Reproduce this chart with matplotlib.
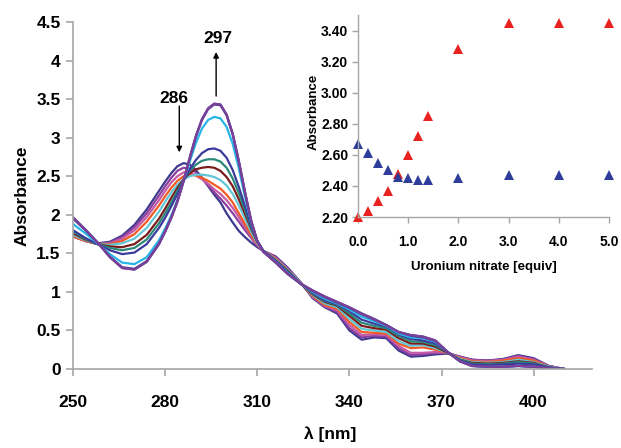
import matplotlib
matplotlib.use('Agg')
import matplotlib.pyplot as plt

# ── Data ─────────────────────────────────────────────────
wavelength = [250, 254, 258, 262, 266, 270, 274, 278,
              280, 282, 284, 286, 288, 290, 292, 294, 296, 298, 300, 302, 304, 306, 308, 310, 312,
              316, 320, 324, 328, 332, 336, 340, 344, 348, 352, 356, 360, 364, 368, 372, 376, 380,
              385, 390, 395, 400, 405, 410]

abs_0_0 = [1.72, 1.66, 1.63, 1.65, 1.73, 1.87, 2.07, 2.31,
           2.43, 2.54, 2.63, 2.67, 2.65, 2.58, 2.48, 2.37, 2.26, 2.16, 2.02, 1.90, 1.79, 1.71, 1.64, 1.58, 1.53,
           1.46, 1.31, 1.13, 0.92, 0.80, 0.72, 0.50, 0.38, 0.41, 0.40, 0.24, 0.16, 0.17, 0.19, 0.20, 0.16, 0.12,
           0.11, 0.13, 0.18, 0.14, 0.04, 0.00]
abs_0_2 = [1.72, 1.66, 1.62, 1.64, 1.71, 1.84, 2.02, 2.25,
           2.37, 2.48, 2.57, 2.61, 2.60, 2.55, 2.47, 2.38, 2.29, 2.21, 2.12, 2.02, 1.91, 1.80, 1.70, 1.60, 1.53,
           1.45, 1.30, 1.13, 0.93, 0.81, 0.74, 0.53, 0.41, 0.43, 0.42, 0.27, 0.18, 0.19, 0.21, 0.21, 0.16, 0.12,
           0.11, 0.12, 0.17, 0.13, 0.04, 0.00]
abs_0_4 = [1.72, 1.66, 1.62, 1.63, 1.69, 1.80, 1.97, 2.19,
           2.31, 2.42, 2.50, 2.55, 2.55, 2.51, 2.46, 2.40, 2.33, 2.27, 2.19, 2.09, 1.97, 1.84, 1.72, 1.61, 1.53,
           1.44, 1.29, 1.12, 0.94, 0.82, 0.76, 0.57, 0.44, 0.45, 0.44, 0.30, 0.21, 0.21, 0.22, 0.21, 0.15, 0.11,
           0.10, 0.12, 0.16, 0.12, 0.03, 0.00]
abs_0_6 = [1.72, 1.66, 1.62, 1.62, 1.66, 1.75, 1.91, 2.12,
           2.24, 2.35, 2.44, 2.50, 2.52, 2.51, 2.48, 2.44, 2.39, 2.34, 2.26, 2.16, 2.02, 1.88, 1.74, 1.62, 1.53,
           1.43, 1.28, 1.12, 0.95, 0.83, 0.78, 0.61, 0.48, 0.47, 0.46, 0.33, 0.27, 0.28, 0.25, 0.21, 0.14, 0.10,
           0.09, 0.11, 0.14, 0.11, 0.03, 0.00]
abs_0_8 = [1.74, 1.67, 1.62, 1.61, 1.63, 1.69, 1.83, 2.04,
           2.17, 2.29, 2.39, 2.46, 2.50, 2.52, 2.52, 2.51, 2.49, 2.45, 2.38, 2.27, 2.12, 1.95, 1.78, 1.63, 1.53,
           1.42, 1.28, 1.12, 0.96, 0.85, 0.80, 0.65, 0.52, 0.50, 0.48, 0.36, 0.30, 0.31, 0.27, 0.21, 0.13, 0.09,
           0.08, 0.09, 0.12, 0.09, 0.03, 0.00]
abs_1_0 = [1.76, 1.68, 1.62, 1.59, 1.58, 1.62, 1.74, 1.95,
           2.08, 2.22, 2.35, 2.46, 2.54, 2.59, 2.61, 2.62, 2.61, 2.57, 2.49, 2.37, 2.20, 2.01, 1.82, 1.65, 1.53,
           1.41, 1.27, 1.11, 0.97, 0.87, 0.82, 0.69, 0.56, 0.53, 0.51, 0.40, 0.33, 0.33, 0.29, 0.21, 0.12, 0.08,
           0.07, 0.08, 0.10, 0.08, 0.02, 0.00]
abs_1_2 = [1.78, 1.69, 1.62, 1.57, 1.54, 1.57, 1.68, 1.89,
           2.02, 2.16, 2.31, 2.45, 2.57, 2.65, 2.70, 2.72, 2.72, 2.69, 2.61, 2.47, 2.28, 2.06, 1.84, 1.66, 1.53,
           1.40, 1.26, 1.11, 0.98, 0.88, 0.83, 0.72, 0.60, 0.56, 0.53, 0.43, 0.36, 0.35, 0.31, 0.22, 0.12, 0.07,
           0.06, 0.07, 0.09, 0.07, 0.02, 0.00]
abs_1_4 = [1.80, 1.70, 1.62, 1.54, 1.49, 1.51, 1.62, 1.83,
           1.96, 2.11, 2.27, 2.44, 2.59, 2.71, 2.80, 2.85, 2.86, 2.83, 2.74, 2.58, 2.36, 2.11, 1.86, 1.66, 1.53,
           1.40, 1.25, 1.11, 0.99, 0.89, 0.84, 0.75, 0.64, 0.59, 0.55, 0.45, 0.39, 0.37, 0.33, 0.22, 0.11, 0.06,
           0.05, 0.06, 0.07, 0.06, 0.02, 0.00]
abs_2_0 = [1.88, 1.76, 1.63, 1.49, 1.38, 1.36, 1.45, 1.67,
           1.82, 1.99, 2.19, 2.43, 2.69, 2.93, 3.12, 3.23, 3.27, 3.25, 3.14, 2.92, 2.60, 2.23, 1.90, 1.66, 1.52,
           1.39, 1.24, 1.11, 1.00, 0.91, 0.85, 0.77, 0.68, 0.62, 0.56, 0.46, 0.41, 0.40, 0.35, 0.22, 0.10, 0.04,
           0.03, 0.03, 0.04, 0.03, 0.01, 0.00]
abs_3_0 = [1.95, 1.80, 1.64, 1.46, 1.32, 1.30, 1.40, 1.63,
           1.79, 1.97, 2.18, 2.44, 2.73, 3.01, 3.23, 3.37, 3.43, 3.42, 3.29, 3.04, 2.68, 2.28, 1.92, 1.66, 1.52,
           1.38, 1.23, 1.11, 1.01, 0.93, 0.86, 0.79, 0.71, 0.64, 0.57, 0.48, 0.43, 0.41, 0.36, 0.22, 0.10, 0.04,
           0.03, 0.03, 0.04, 0.03, 0.01, 0.00]
abs_4_0 = [1.96, 1.81, 1.64, 1.45, 1.31, 1.29, 1.39, 1.62,
           1.78, 1.96, 2.17, 2.44, 2.74, 3.02, 3.24, 3.38, 3.44, 3.43, 3.30, 3.05, 2.69, 2.29, 1.92, 1.66, 1.52,
           1.38, 1.23, 1.11, 1.02, 0.94, 0.87, 0.80, 0.72, 0.65, 0.57, 0.48, 0.44, 0.42, 0.37, 0.22, 0.10, 0.04,
           0.03, 0.03, 0.04, 0.03, 0.01, 0.00]
abs_5_0 = [1.97, 1.81, 1.64, 1.45, 1.31, 1.29, 1.39, 1.62,
           1.78, 1.96, 2.17, 2.44, 2.74, 3.02, 3.24, 3.38, 3.44, 3.43, 3.30, 3.05, 2.70, 2.30, 1.93, 1.66, 1.52,
           1.38, 1.23, 1.11, 1.02, 0.94, 0.87, 0.80, 0.72, 0.65, 0.57, 0.48, 0.44, 0.42, 0.37, 0.22, 0.10, 0.04,
           0.03, 0.03, 0.04, 0.03, 0.01, 0.00]

spectra = [abs_0_0, abs_0_2, abs_0_4, abs_0_6, abs_0_8, abs_1_0,
           abs_1_2, abs_1_4, abs_2_0, abs_3_0, abs_4_0, abs_5_0]
spec_colors = ['#3d3a8e', '#8b3fa0', '#c55aa6', '#f15a24', '#62c6d6', '#7a1c1c',
               '#2a8a78', '#3b3b9e', '#27b5e8', '#5a4a9a', '#4b4aa8', '#7b3f98']

# inset: absorbance at 297 nm (red) and 286 nm (blue) vs equivalents
equiv = [0.0, 0.2, 0.4, 0.6, 0.8, 1.0, 1.2, 1.4, 2.0, 3.0, 4.0, 5.0]
abs_297 = [2.20, 2.24, 2.30, 2.37, 2.48, 2.60, 2.72, 2.85, 3.28, 3.45, 3.45, 3.45]
abs_286 = [2.67, 2.61, 2.55, 2.50, 2.46, 2.45, 2.44, 2.44, 2.45, 2.47, 2.47, 2.47]

main_xticks = [250, 280, 310, 340, 370, 400]
main_yticks = [0, 0.5, 1, 1.5, 2, 2.5, 3, 3.5, 4, 4.5]
main_yticklabels = ['0', '0.5', '1', '1.5', '2', '2.5', '3', '3.5', '4', '4.5']
inset_xticks = [0, 1, 2, 3, 4, 5]
inset_yticks = [2.2, 2.4, 2.6, 2.8, 3.0, 3.2, 3.4]

# ── Style ────────────────────────────────────────────────
plt.rcParams['font.family'] = ['Liberation Sans', 'DejaVu Sans']
plt.rcParams['font.weight'] = 'bold'
axis_grey = '#a6a6a6'

fig = plt.figure(figsize=(6.21, 4.48), dpi=100)
fig.patch.set_facecolor('white')

# ── Main spectra axes ────────────────────────────────────
ax = fig.add_axes([0.1176, 0.1763, 0.8357, 0.7746])
for vals, c in zip(spectra, spec_colors):
    ax.plot(wavelength, vals, color=c, lw=1.6, solid_joinstyle='round')

ax.set_xlim(250, 419)
ax.set_ylim(0, 4.5)
ax.set_xticks(main_xticks)
ax.set_yticks(main_yticks)
ax.set_yticklabels(main_yticklabels)
for s in ['top', 'right']:
    ax.spines[s].set_visible(False)
for s in ['left', 'bottom']:
    ax.spines[s].set_color(axis_grey)
    ax.spines[s].set_linewidth(1.2)
ax.tick_params(axis='both', direction='out', color=axis_grey, width=1.2,
               length=5, labelsize=12.5)
ax.tick_params(axis='x', pad=14)
ax.tick_params(axis='y', pad=4)
ax.set_xlabel('λ [nm]', fontsize=12.5, fontweight='bold')
ax.xaxis.set_label_coords(0.495, -0.165)
ax.set_ylabel('Absorbance', fontsize=12.5, fontweight='bold')
ax.yaxis.set_label_coords(-0.083, 0.5)

ax.annotate('', xy=(284.6, 2.81), xytext=(284.6, 3.41),
            arrowprops=dict(arrowstyle='-|>', color='black', lw=1,
                            mutation_scale=8, shrinkA=0, shrinkB=0))
ax.text(282.8, 3.51, '286', ha='center', va='center', fontsize=12.5, fontweight='bold')
ax.annotate('', xy=(296.6, 4.11), xytext=(296.6, 3.54),
            arrowprops=dict(arrowstyle='-|>', color='black', lw=1,
                            mutation_scale=8, shrinkA=0, shrinkB=0))
ax.text(297.3, 4.29, '297', ha='center', va='center', fontsize=12.5, fontweight='bold')

# ── Inset titration plot ─────────────────────────────────
ins = fig.add_axes([0.5765, 0.5156, 0.4042, 0.4509])
ins.patch.set_alpha(0)
ins.plot(equiv, abs_297, linestyle='none', marker='^', markersize=7,
         color='#e8231f', markeredgewidth=0, clip_on=False)
ins.plot(equiv, abs_286, linestyle='none', marker='^', markersize=7,
         color='#2e3d9a', markeredgewidth=0, clip_on=False)
ins.set_xlim(0, 5)
ins.set_ylim(2.2, 3.5)
ins.set_xticks(inset_xticks)
ins.set_xticklabels([f'{v:.1f}' for v in inset_xticks])
ins.set_yticks(inset_yticks)
ins.set_yticklabels([f'{v:.2f}' for v in inset_yticks])
for s in ['top', 'right']:
    ins.spines[s].set_visible(False)
for s in ['left', 'bottom']:
    ins.spines[s].set_color(axis_grey)
    ins.spines[s].set_linewidth(1.0)
ins.tick_params(axis='both', direction='out', color=axis_grey, width=1.0,
                length=4, labelsize=10)
ins.tick_params(axis='x', pad=9)
ins.tick_params(axis='y', pad=3)
ins.set_xlabel('Uronium nitrate [equiv]', fontsize=9.5, fontweight='bold')
ins.xaxis.set_label_coords(0.5, -0.218)
ins.set_ylabel('Absorbance', fontsize=9.5, fontweight='bold')
ins.yaxis.set_label_coords(-0.151, 0.52)

fig.savefig('out.png', dpi=100, facecolor='white')
